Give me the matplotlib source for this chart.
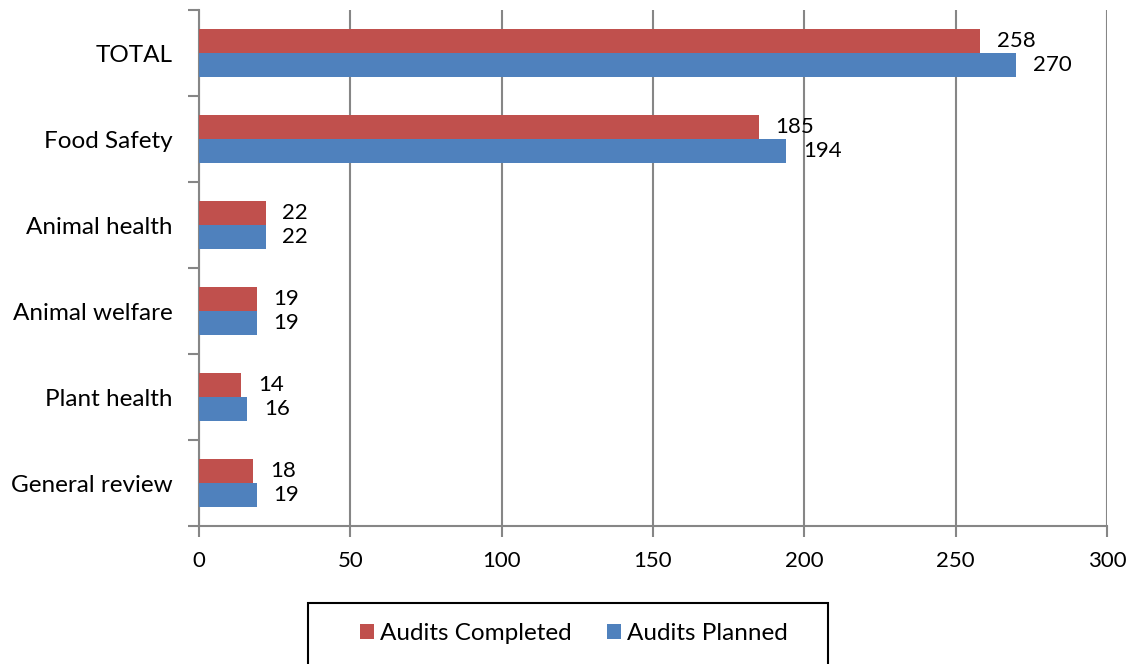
import numpy as np
import matplotlib
matplotlib.use('Agg')
import matplotlib.pyplot as plt
from matplotlib.patches import Patch, Rectangle

plt.rcParams['font.family'] = ['Lato', 'DejaVu Sans']

#data
categories = ['TOTAL', 'Food Safety', 'Animal health', 'Animal welfare', 'Plant health', 'General review']
completed = [258, 185, 22, 19, 14, 18]
planned = [270, 194, 22, 19, 16, 19]
x_ticks = [0, 50, 100, 150, 200, 250, 300]

red = '#C0504D'
blue = '#4F81BD'
grid_col = '#868686'
fs = 16
fs_text = 17.5

fig = plt.figure(figsize=(11.37, 6.64), dpi=100)
ax = fig.add_axes([199/1137, 138/664, 908/1137, 516/664])

y = np.arange(len(categories))
h = 0.28

b1 = ax.barh(y - h/2, completed, height=h, color=red, edgecolor='none', zorder=3)
b2 = ax.barh(y + h/2, planned, height=h, color=blue, edgecolor='none', zorder=3)

#value labels
for bars, vals in [(b1, completed), (b2, planned)]:
    for rect, v in zip(bars, vals):
        ax.annotate(str(v), (v, rect.get_y() + rect.get_height()/2), xytext=(12, 0),
                    textcoords='offset points', va='center', ha='left', fontsize=fs)

ax.set_xlim(0, 300)
ax.set_ylim(len(categories) - 0.5, -0.5)
ax.set_xticks(x_ticks)
ax.set_yticks(y)
ax.set_yticklabels(categories)
ax.set_yticks(np.arange(len(categories) + 1) - 0.5, minor=True)

ax.xaxis.grid(True, color=grid_col, linewidth=1.5, zorder=0)
for s in ['top', 'right']:
    ax.spines[s].set_visible(False)
for s in ['left', 'bottom']:
    ax.spines[s].set_color(grid_col)
    ax.spines[s].set_linewidth(1.5)

ax.tick_params(axis='y', which='major', length=0, pad=19, labelsize=fs_text)
ax.tick_params(axis='y', which='minor', length=8, width=1.5, color=grid_col, direction='out')
ax.tick_params(axis='x', length=8, width=1.5, color=grid_col, direction='out', pad=10, labelsize=fs)

#legend with a separate frame
handles = [Patch(facecolor=red, label='Audits Completed'), Patch(facecolor=blue, label='Audits Planned')]
fig.legend(handles=handles, loc='center', bbox_to_anchor=(574/1137, 1 - 634/664), ncol=2,
           fontsize=fs_text, frameon=False, handlelength=0.58, handleheight=0.58,
           handletextpad=0.25, columnspacing=1.44, borderaxespad=0)
fig.patches.append(Rectangle((308/1137, -0.01), 520/1137, (664 - 603)/664 + 0.01,
                             transform=fig.transFigure, fill=False, edgecolor='black', linewidth=1.5))

fig.savefig('out.png', dpi=100)
